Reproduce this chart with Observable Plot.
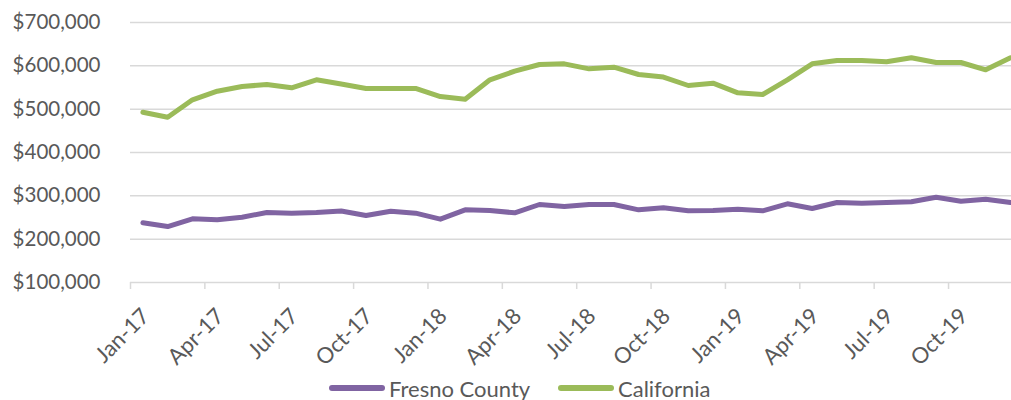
<!DOCTYPE html>
<html>
<head>
<meta charset="utf-8">
<script src="https://cdn.jsdelivr.net/npm/d3@7"></script>
<script src="https://cdn.jsdelivr.net/npm/@observablehq/plot@0.6"></script>
<style>
  html, body { margin: 0; padding: 0; background: #fff; overflow: hidden; }
  #chart { width: 1011px; }
  .legend { position: relative; height: 36px; width: 1011px;
    font-family: Lato, "Open Sans", sans-serif; font-size: 22px; color: #595959; }
  .legend .item { position: absolute; top: 0; height: 36px; display: flex; align-items: center; white-space: nowrap; }
  .legend .sw { width: 56px; height: 6px; border-radius: 3px; margin-right: 4px; }
</style>
</head>
<body>
<div id="chart"></div>
<script>
const months = [
  "Jan-17","Feb-17","Mar-17","Apr-17","May-17","Jun-17","Jul-17","Aug-17","Sep-17","Oct-17","Nov-17","Dec-17",
  "Jan-18","Feb-18","Mar-18","Apr-18","May-18","Jun-18","Jul-18","Aug-18","Sep-18","Oct-18","Nov-18","Dec-18",
  "Jan-19","Feb-19","Mar-19","Apr-19","May-19","Jun-19","Jul-19","Aug-19","Sep-19","Oct-19","Nov-19","Dec-19"
];
const fresno = [
  237700, 229200, 247000, 244700, 250700, 261500, 260000, 261500, 265000, 254600, 264600, 260000,
  246200, 267700, 266200, 260800, 280000, 275400, 280000, 280000, 267700, 272300, 265400, 266200,
  269200, 265400, 281600, 270800, 284600, 283100, 284600, 286200, 296900, 287700, 292300, 284600
];
const california = [
  493000, 481500, 521600, 541500, 552300, 556900, 549300, 567700, 558000, 547700, 547700, 547700,
  529000, 523000, 567700, 587700, 603000, 604600, 593000, 597000, 580000, 574000, 554600, 560000,
  537700, 533800, 567700, 604600, 612300, 612300, 609300, 618500, 607700, 607700, 590800, 618500
];
const seriesNames = ["Fresno County", "California"];
const seriesColors = ["#8064A2", "#9BBB59"];
const yTicks = [100000, 200000, 300000, 400000, 500000, 600000, 700000];

const rows = [];
[fresno, california].forEach((vals, s) => {
  vals.forEach((v, i) => rows.push({ i, value: v, series: seriesNames[s] }));
});

const boundaries = d3.range(-0.5, 35, 3);
const centers = d3.range(0, 36, 3);
const fmt = d3.format(",");

const chart = Plot.plot({
  width: 1011,
  height: 370,
  marginLeft: 130,
  marginRight: 0,
  marginTop: 22,
  marginBottom: 88,
  style: { fontFamily: "Lato, 'Open Sans', sans-serif", background: "#fff", color: "#595959" },
  x: { type: "linear", domain: [-0.5, 35.04], label: null },
  y: { domain: [100000, 700000], label: null },
  color: { domain: seriesNames, range: seriesColors },
  marks: [
    Plot.gridY(yTicks, { stroke: "#d9d9d9", strokeOpacity: 1, strokeWidth: 1.5 }),
    Plot.axisY(yTicks, { label: null, tickSize: 0, tickPadding: 30, tickFormat: d => "$" + fmt(d), fontSize: 20.5, fill: "#595959" }),
    Plot.axisX(boundaries, { label: null, tickSize: 7, stroke: "#d9d9d9", strokeWidth: 1.5, strokeOpacity: 1, tickFormat: () => "" }),
    Plot.axisX(centers, { label: null, tickSize: 0, tickRotate: -45, tickPadding: 20, dx: 3, dy: 10, tickFormat: i => months[i], fontSize: 22, fill: "#595959" }),
    Plot.line(rows, { x: "i", y: "value", z: "series", stroke: "series", strokeWidth: 5, strokeLinejoin: "round", strokeLinecap: "round" })
  ]
});
document.getElementById("chart").appendChild(chart);

const legendLeft = [329, 558];
const legend = document.createElement("div");
legend.className = "legend";
seriesNames.forEach((n, k) => {
  const it = document.createElement("div");
  it.className = "item";
  it.style.left = legendLeft[k] + "px";
  const sw = document.createElement("span");
  sw.className = "sw";
  sw.style.background = seriesColors[k];
  const t = document.createElement("span");
  t.textContent = n;
  it.appendChild(sw); it.appendChild(t);
  legend.appendChild(it);
});
document.getElementById("chart").appendChild(legend);
</script>
</body>
</html>
